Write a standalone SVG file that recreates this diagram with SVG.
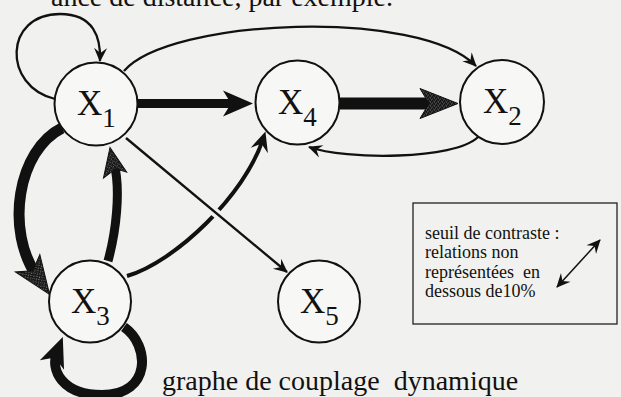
<svg xmlns="http://www.w3.org/2000/svg" width="621" height="397" viewBox="0 0 621 397">
  <defs>
    <style>
      .node circle { fill: #f7f7f5; stroke: #111; stroke-width: 2; }
      .lbl { font-family: "Liberation Serif", "Times New Roman", serif; font-size: 35px; fill: #111; }
      .sub { font-size: 27px; }
      .edge { fill: none; stroke: #111; stroke-linecap: butt; }
      .thin { stroke-width: 2.3; }
      .legend text { font-family: "Liberation Serif", "Times New Roman", serif; font-size: 18px; fill: #111; }
      .caption { font-family: "Liberation Serif", "Times New Roman", serif; font-size: 28px; fill: #111; }
    </style>
    <!-- dark stippled ink for the strongest couplings -->
    <pattern id="grain" width="4" height="4" patternUnits="userSpaceOnUse">
      <rect width="4" height="4" fill="#161616"/>
      <rect x="1" y="0" width="1" height="1" fill="#6c6c6c"/>
      <rect x="3" y="1" width="1" height="1" fill="#505050"/>
      <rect x="0" y="2" width="1" height="1" fill="#7a7a7a"/>
      <rect x="2" y="3" width="1" height="1" fill="#5a5a5a"/>
    </pattern>
    <!-- small barbed head, tip at the path end -->
    <marker id="hs" markerUnits="userSpaceOnUse" orient="auto-start-reverse" overflow="visible" refX="0" refY="0" markerWidth="1" markerHeight="1">
      <path d="M1,0 L-13,-6.5 L-8,0 L-13,6.5 Z" fill="#111"/>
    </marker>
    <!-- medium head, tip 8px beyond the path end -->
    <marker id="hm" markerUnits="userSpaceOnUse" orient="auto" overflow="visible" refX="0" refY="0" markerWidth="1" markerHeight="1">
      <path d="M8,0 L-12,-9 L-5,0 L-12,9 Z" fill="#111"/>
    </marker>
    <!-- large black head, tip 16px beyond the path end -->
    <marker id="hl" markerUnits="userSpaceOnUse" orient="auto" overflow="visible" refX="0" refY="0" markerWidth="1" markerHeight="1">
      <path d="M16,0 L-14,-13 L-6,0 L-14,13 Z" fill="#111"/>
    </marker>
    <!-- large stippled head, tip 20px beyond the path end -->
    <marker id="hg" markerUnits="userSpaceOnUse" orient="auto" overflow="visible" refX="0" refY="0" markerWidth="1" markerHeight="1">
      <path d="M20,0 L-18,-15 L-9,0 L-18,15 Z" fill="url(#grain)" stroke="#111" stroke-width="1"/>
    </marker>
    <!-- medium stippled head, tip 16px beyond the path end -->
    <marker id="hg2" markerUnits="userSpaceOnUse" orient="auto" overflow="visible" refX="0" refY="0" markerWidth="1" markerHeight="1">
      <path d="M16,0 L-12,-14 L-6,0 L-12,10 Z" fill="url(#grain)" stroke="#111" stroke-width="1"/>
    </marker>
  </defs>

  <rect width="621" height="397" fill="#f1f1ef"/>

  <!-- end of the preceding paragraph, cut by the top edge -->
  <text class="caption" x="393" y="6" text-anchor="end" font-size="32">ance de distance, par exemple.</text>

  <g id="connectors">
    <!-- X1 self-loop -->
    <path class="edge thin" d="M55,99 C2,86 4,14 60,14 C94,14 101,38 100,61" marker-end="url(#hs)"/>
    <!-- X1 -> X2 long arc -->
    <path class="edge thin" d="M124,71 C170,18 420,8 476,66" marker-end="url(#hs)"/>
    <!-- X1 -> X4 -->
    <path class="edge" stroke-width="9" d="M138,103.5 L237,103.5" marker-end="url(#hl)"/>
    <!-- X4 -> X2 -->
    <path class="edge" stroke="url(#grain)" stroke-width="12" d="M340,103.5 L438,103.5" marker-end="url(#hg)"/>
    <!-- X2 -> X4 -->
    <path class="edge thin" d="M478,137 C455,160 345,160 309,147" marker-end="url(#hs)"/>
    <!-- X3 -> X4 -->
    <path class="edge" stroke-width="4" d="M127,276 C175,262 245,195 263,139" marker-end="url(#hm)"/>
    <!-- X1 -> X5, drawn over X3 -> X4 with a break -->
    <path fill="none" stroke="#f1f1ef" stroke-width="9" d="M205,204 L240,233"/>
    <path class="edge thin" d="M126,138 L287,272" marker-end="url(#hs)"/>
    <!-- X3 -> X1 -->
    <path class="edge" stroke="url(#grain)" stroke-width="9" d="M108,261 C116,232 121,190 114,163" marker-end="url(#hg2)"/>
    <!-- X1 -> X3 -->
    <path class="edge" stroke="url(#grain)" stroke-width="11" d="M62,128 C18,150 4,230 38,278" marker-end="url(#hg)"/>
    <!-- X3 self-loop -->
    <path class="edge" stroke-width="10" d="M124,327 C150,345 152,395 102,395 C62,395 50,370 57,352" marker-end="url(#hl)"/>
  </g>

  <g id="x1" class="node">
    <circle cx="96" cy="104" r="41.5"/>
    <text class="lbl" x="77" y="115">X<tspan class="sub" dy="12">1</tspan></text>
  </g>
  <g id="x4" class="node">
    <circle cx="297.5" cy="102.5" r="42"/>
    <text class="lbl" x="278" y="114">X<tspan class="sub" dy="12">4</tspan></text>
  </g>
  <g id="x2" class="node">
    <circle cx="502" cy="102" r="42"/>
    <text class="lbl" x="483" y="113">X<tspan class="sub" dy="12">2</tspan></text>
  </g>
  <g id="x3" class="node">
    <circle cx="90" cy="301.5" r="41"/>
    <text class="lbl" x="71" y="313">X<tspan class="sub" dy="12">3</tspan></text>
  </g>
  <g id="x5" class="node">
    <circle cx="319" cy="301.5" r="41"/>
    <text class="lbl" x="300" y="313">X<tspan class="sub" dy="12">5</tspan></text>
  </g>

  <g id="legend" class="legend">
    <rect x="413" y="203" width="204" height="121" fill="none" stroke="#222" stroke-width="1.3"/>
    <text x="425" y="239">seuil de contraste :</text>
    <text x="425" y="258">relations non</text>
    <text x="425" y="278" xml:space="preserve">représentées  en</text>
    <text x="425" y="297">dessous de10%</text>
    <path fill="none" stroke="#111" stroke-width="1.5" d="M557,287 L600,240" marker-start="url(#hs)" marker-end="url(#hs)"/>
  </g>

  <text class="caption" x="162" y="390" xml:space="preserve">graphe de couplage  dynamique</text>
</svg>
